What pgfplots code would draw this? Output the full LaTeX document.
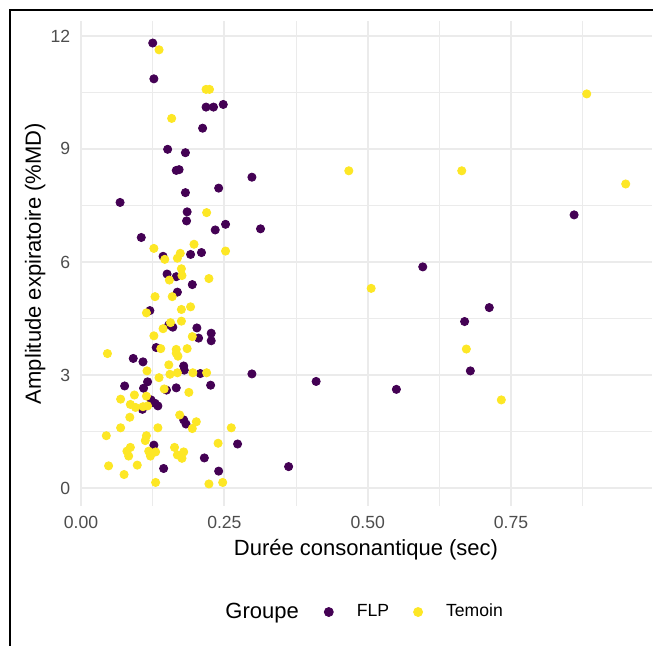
\documentclass[border=0pt]{standalone}
\usepackage{fontspec}
\setmainfont{Liberation Sans}
\usepackage{pgfplots}
\pgfplotsset{compat=1.18}
\usepackage{pgfplotstable}

\definecolor{flp}{HTML}{440154}
\definecolor{temoin}{HTML}{FDE725}
\definecolor{gridc}{HTML}{EBEBEB}
\definecolor{tickc}{HTML}{4D4D4D}

\pgfplotsset{dotkey/.style={legend image code/.code={\path[draw=none,fill=none] (-8.5pt,0) -- (14pt,0); \fill[#1] (0,0) circle (2.25pt);}}}

% duree (sec), amplitude (%MD)
\pgfplotstableread{
x y
0.125 11.81
0.127 10.86
0.218 10.11
0.231 10.11
0.248 10.18
0.212 9.55
0.151 8.99
0.182 8.90
0.166 8.43
0.171 8.45
0.298 8.25
0.240 7.96
0.182 7.84
0.068 7.58
0.185 7.33
0.184 7.09
0.252 7.00
0.234 6.85
0.313 6.88
0.105 6.65
0.143 6.15
0.191 6.20
0.210 6.25
0.150 5.68
0.166 5.61
0.194 5.40
0.168 5.20
0.120 4.71
0.153 4.33
0.160 4.27
0.202 4.25
0.205 3.98
0.227 4.11
0.227 3.91
0.131 3.73
0.091 3.44
0.108 3.35
0.179 3.24
0.180 3.13
0.208 3.04
0.298 3.03
0.116 2.82
0.076 2.71
0.109 2.65
0.149 2.60
0.166 2.66
0.226 2.73
0.122 2.34
0.129 2.25
0.134 2.18
0.107 2.09
0.179 1.81
0.183 1.70
0.127 1.14
0.273 1.17
0.215 0.80
0.144 0.52
0.240 0.45
0.362 0.57
0.410 2.83
0.550 2.62
0.596 5.87
0.712 4.79
0.669 4.42
0.679 3.11
0.860 7.25
}\flpdata

\pgfplotstableread{
x y
0.136 11.63
0.218 10.58
0.224 10.58
0.158 9.81
0.219 7.31
0.127 6.36
0.197 6.47
0.146 6.07
0.173 6.23
0.168 6.10
0.252 6.29
0.175 5.82
0.154 5.52
0.176 5.64
0.223 5.56
0.129 5.08
0.159 5.08
0.191 4.81
0.175 4.74
0.114 4.65
0.175 4.43
0.156 4.39
0.143 4.23
0.127 4.04
0.194 4.02
0.139 3.70
0.166 3.68
0.185 3.70
0.046 3.57
0.166 3.58
0.169 3.50
0.153 3.27
0.168 3.06
0.155 3.02
0.195 3.06
0.219 3.06
0.115 3.11
0.136 2.93
0.145 2.63
0.188 2.54
0.093 2.47
0.069 2.36
0.114 2.44
0.086 2.22
0.095 2.14
0.108 2.16
0.116 2.18
0.085 1.88
0.172 1.94
0.201 1.76
0.194 1.58
0.262 1.60
0.069 1.60
0.134 1.60
0.044 1.39
0.114 1.39
0.112 1.26
0.086 1.08
0.080 0.98
0.083 0.85
0.118 0.98
0.130 0.96
0.121 0.85
0.163 1.08
0.179 0.96
0.168 0.88
0.176 0.79
0.239 1.19
0.048 0.59
0.098 0.61
0.075 0.36
0.130 0.15
0.223 0.11
0.247 0.15
0.467 8.42
0.664 8.42
0.950 8.07
0.882 10.46
0.506 5.30
0.672 3.69
0.733 2.34
}\temoindata

\begin{document}
\begin{tikzpicture}
\useasboundingbox (0,0) rectangle (326.5pt,323pt);
\fill[white] (0,0) rectangle (326.5pt,323pt);
% frame of the screenshot (left and top edges only)
\draw[black, line width=1pt] (5pt,0) -- (5pt,318pt) -- (326.5pt,318pt);
\begin{axis}[
    at={(40.25pt,70pt)}, anchor=south west,
    scale only axis,
    width=285.5pt, height=242.5pt,
    xmin=-0.001, xmax=0.995,
    ymin=-0.475, ymax=12.395,
    axis lines=left,
    axis line style={draw=none,-},
    major tick length=0pt, minor tick length=0pt,
    xtick={0,0.25,0.5,0.75},
    xticklabels={0.00,0.25,0.50,0.75},
    minor xtick={0.125,0.375,0.625,0.875},
    ytick={0,3,6,9,12},
    yticklabels={0,3,6,9,12},
    minor ytick={1.5,4.5,7.5,10.5},
    grid=both,
    major grid style={draw=gridc, line width=1pt},
    minor grid style={draw=gridc, line width=0.5pt},
    xticklabel style={font=\fontsize{8.8}{10}\selectfont, text=tickc, anchor=north, inner sep=0pt, yshift=-4.95pt},
    yticklabel style={font=\fontsize{8.8}{10}\selectfont, text=tickc, anchor=east, inner sep=0pt, xshift=-4.95pt},
    xlabel={Durée consonantique (sec)},
    ylabel={Amplitude expiratoire (\%MD)},
    every axis x label/.style={at={(axis description cs:0.5,-0.1031)}, anchor=base, inner sep=0pt, font=\fontsize{11}{13}\selectfont},
    every axis y label/.style={at={(axis description cs:-0.0692,0.5)}, rotate=90, anchor=base, inner sep=0pt, font=\fontsize{11}{13}\selectfont},
    legend columns=3,
    legend style={at={(0.2531,-0.2186)}, anchor=west, draw=none, fill=none, inner sep=0pt,
        column sep=0pt, nodes={inner sep=0pt, font=\fontsize{8.8}{10}\selectfont}, cells={anchor=west}},
]
\addplot[only marks, mark=*, mark size=2.05pt, color=flp, forget plot] table[x=x, y=y] {\flpdata};
\addplot[only marks, mark=*, mark size=2.05pt, color=temoin, forget plot] table[x=x, y=y] {\temoindata};
\addlegendimage{empty legend}
\addlegendentry{\fontsize{11}{13}\selectfont Groupe\kern6.5pt}
\addlegendimage{dotkey=flp}
\addlegendentry{FLP\kern6pt}
\addlegendimage{dotkey=temoin}
\addlegendentry{Temoin}
\end{axis}
\end{tikzpicture}
\end{document}
